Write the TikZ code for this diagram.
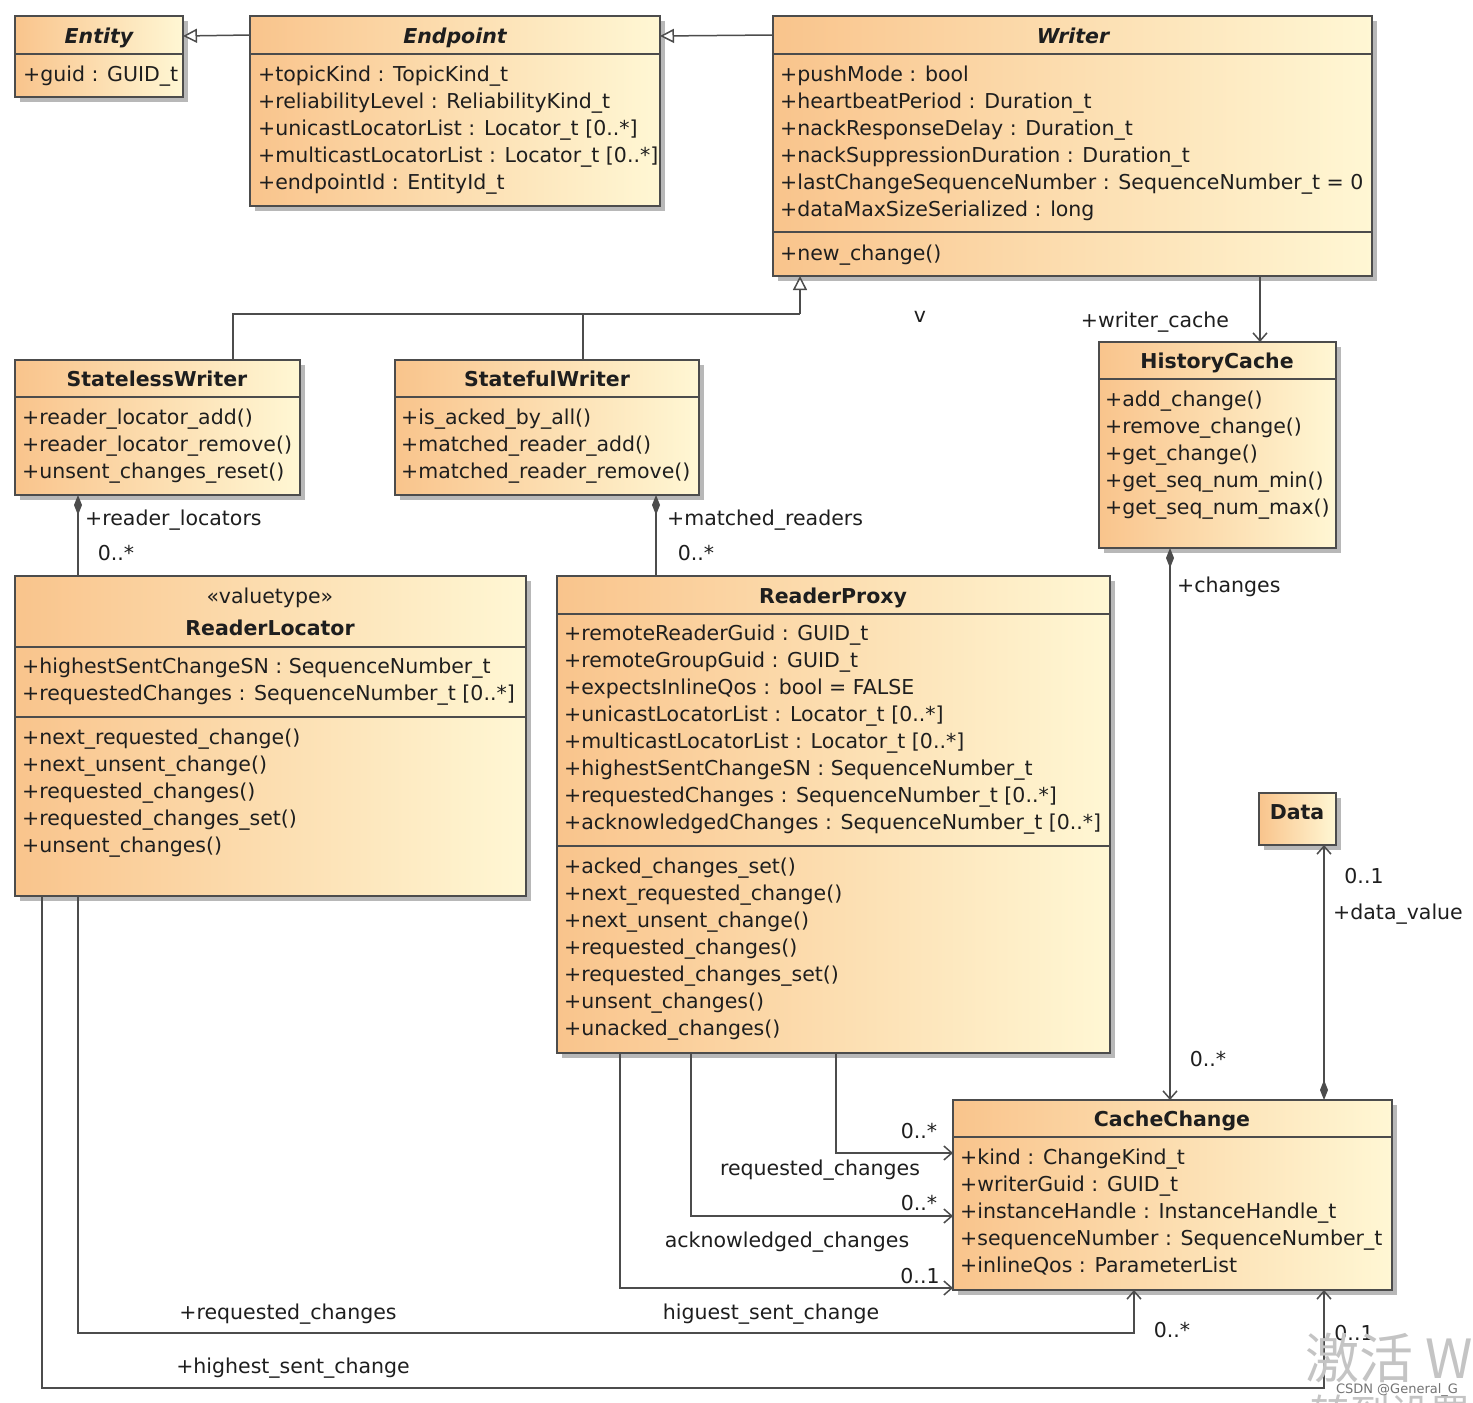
\documentclass[tikz,border=0pt]{standalone}
\usepackage{fontspec}
\setmainfont{DejaVu Sans}
\newfontfamily\cjkfont{Noto Sans CJK SC}
\usetikzlibrary{arrows.meta,shadows,calc}
\definecolor{boxorange}{HTML}{F9C48C}
\definecolor{boxpale}{HTML}{FFF7D4}
\definecolor{edge}{HTML}{4C4C4C}
\definecolor{txt}{HTML}{1E1E1E}
\definecolor{wm}{HTML}{C4C4C4}
\tikzset{
  umlbox/.style={draw=edge, line width=1.6pt, left color=boxorange, right color=boxpale,
    anchor=north west, inner sep=0pt, outer sep=0pt,
    drop shadow={shadow xshift=5pt, shadow yshift=-5pt, fill=black, opacity=0.28}},
  sepline/.style={draw=edge, line width=1.6pt},
  member/.style={anchor=base west, yshift=-7pt, inner sep=0pt, text=txt,
    font=\fontsize{20.5}{24}\selectfont},
  title/.style={anchor=base, yshift=-7pt, inner sep=0pt, text=txt,
    font=\fontsize{20.5}{24}\selectfont\bfseries},
  lbl/.style={anchor=base, yshift=-7pt, inner sep=0pt, text=txt,
    font=\fontsize{20.5}{24}\selectfont},
  conn/.style={draw=edge, line width=1.5pt},
  gen/.style={-{Triangle[open, length=14pt, width=14pt, fill=white]}},
  nav/.style={-{Straight Barb[length=8pt, width=14pt]}},
  comp/.style={{Diamond[length=20pt, width=8pt]}-},
  compnav/.style={{Diamond[length=20pt, width=8pt]}-{Straight Barb[length=8pt, width=14pt]}},
}
\begin{document}
\begin{tikzpicture}[x=1pt, y=-1pt]
\useasboundingbox (0,0) rectangle (1473,1403);
\fill[white] (0,0) rectangle (1473,1403);

% ---------- boxes ----------
\node[umlbox, minimum width=168pt, minimum height=81pt] (entity) at (15,16) {};
\node[umlbox, minimum width=410pt, minimum height=190pt] (endpoint) at (250,16) {};
\node[umlbox, minimum width=599pt, minimum height=260pt] (writer) at (773,16) {};
\node[umlbox, minimum width=285pt, minimum height=135pt] (stateless) at (15,360) {};
\node[umlbox, minimum width=304pt, minimum height=135pt] (stateful) at (395,360) {};
\node[umlbox, minimum width=237pt, minimum height=206pt] (hc) at (1099,342) {};
\node[umlbox, minimum width=511pt, minimum height=320pt] (rl) at (15,576) {};
\node[umlbox, minimum width=553pt, minimum height=477pt] (rp) at (557,576) {};
\node[umlbox, minimum width=77pt, minimum height=52pt] (data) at (1259,793) {};
\node[umlbox, minimum width=439pt, minimum height=190pt] (cc) at (953,1100) {};

% ---------- separators ----------
\draw[sepline] ($(entity.north west)+(0,38)$) -- ($(entity.north east)+(0,38)$);
\draw[sepline] ($(endpoint.north west)+(0,38)$) -- ($(endpoint.north east)+(0,38)$);
\draw[sepline] ($(writer.north west)+(0,38)$) -- ($(writer.north east)+(0,38)$);
\draw[sepline] ($(writer.north west)+(0,216)$) -- ($(writer.north east)+(0,216)$);
\draw[sepline] ($(stateless.north west)+(0,37)$) -- ($(stateless.north east)+(0,37)$);
\draw[sepline] ($(stateful.north west)+(0,37)$) -- ($(stateful.north east)+(0,37)$);
\draw[sepline] ($(hc.north west)+(0,37)$) -- ($(hc.north east)+(0,37)$);
\draw[sepline] ($(rl.north west)+(0,71)$) -- ($(rl.north east)+(0,71)$);
\draw[sepline] ($(rl.north west)+(0,141)$) -- ($(rl.north east)+(0,141)$);
\draw[sepline] ($(rp.north west)+(0,38)$) -- ($(rp.north east)+(0,38)$);
\draw[sepline] ($(rp.north west)+(0,270)$) -- ($(rp.north east)+(0,270)$);
\draw[sepline] ($(cc.north west)+(0,37)$) -- ($(cc.north east)+(0,37)$);

% ---------- titles ----------
\node[title, font=\fontsize{20.5}{24}\selectfont\bfseries\itshape] (t-entity) at (99,36) {Entity};
\node[title, font=\fontsize{20.5}{24}\selectfont\bfseries\itshape] (t-endpoint) at (455,36) {Endpoint};
\node[title, font=\fontsize{20.5}{24}\selectfont\bfseries\itshape] (t-writer) at (1073,36) {Writer};
\node[title] (t-stateless) at (157,379) {StatelessWriter};
\node[title] (t-stateful) at (547,379) {StatefulWriter};
\node[title] (t-hc) at (1217,361) {HistoryCache};
\node[lbl] (t-rl-st) at (270,596) {«valuetype»};
\node[title] (t-rl) at (270,628) {ReaderLocator};
\node[title] (t-rp) at (833,596) {ReaderProxy};
\node[title] (t-data) at (1297,812) {Data};
\node[title] (t-cc) at (1172,1119) {CacheChange};

% ---------- members ----------
\node[member] (m-entity) at (23,74) {+guid : GUID\_t};
\foreach \s [count=\i] in {{+topicKind : TopicKind\_t},{+reliabilityLevel : ReliabilityKind\_t},{+unicastLocatorList : Locator\_t [0..*]},{+multicastLocatorList : Locator\_t [0..*]},{+endpointId : EntityId\_t}}
  \node[member] (m-ep-\i) at (258,{47+27*\i}) {\s};
\foreach \s [count=\i] in {{+pushMode : bool},{+heartbeatPeriod : Duration\_t},{+nackResponseDelay : Duration\_t},{+nackSuppressionDuration : Duration\_t},{+lastChangeSequenceNumber : SequenceNumber\_t = 0},{+dataMaxSizeSerialized : long}}
  \node[member] (m-wr-\i) at (780,{47+27*\i}) {\s};
\node[member] (m-wr-op) at (780,253) {+new\_change()};
\foreach \s [count=\i] in {{+reader\_locator\_add()},{+reader\_locator\_remove()},{+unsent\_changes\_reset()}}
  \node[member] (m-sl-\i) at (22,{390+27*\i}) {\s};
\foreach \s [count=\i] in {{+is\_acked\_by\_all()},{+matched\_reader\_add()},{+matched\_reader\_remove()}}
  \node[member] (m-sf-\i) at (401,{390+27*\i}) {\s};
\foreach \s [count=\i] in {{+add\_change()},{+remove\_change()},{+get\_change()},{+get\_seq\_num\_min()},{+get\_seq\_num\_max()}}
  \node[member] (m-hc-\i) at (1105,{372+27*\i}) {\s};
\foreach \s [count=\i] in {{+highestSentChangeSN : SequenceNumber\_t},{+requestedChanges : SequenceNumber\_t [0..*]}}
  \node[member] (m-rl-\i) at (22,{639+27*\i}) {\s};
\foreach \s [count=\i] in {{+next\_requested\_change()},{+next\_unsent\_change()},{+requested\_changes()},{+requested\_changes\_set()},{+unsent\_changes()}}
  \node[member] (o-rl-\i) at (22,{710+27*\i}) {\s};
\foreach \s [count=\i] in {{+remoteReaderGuid : GUID\_t},{+remoteGroupGuid : GUID\_t},{+expectsInlineQos : bool = FALSE},{+unicastLocatorList : Locator\_t [0..*]},{+multicastLocatorList : Locator\_t [0..*]},{+highestSentChangeSN : SequenceNumber\_t},{+requestedChanges : SequenceNumber\_t [0..*]},{+acknowledgedChanges : SequenceNumber\_t [0..*]}}
  \node[member] (m-rp-\i) at (564,{606+27*\i}) {\s};
\foreach \s [count=\i] in {{+acked\_changes\_set()},{+next\_requested\_change()},{+next\_unsent\_change()},{+requested\_changes()},{+requested\_changes\_set()},{+unsent\_changes()},{+unacked\_changes()}}
  \node[member] (o-rp-\i) at (564,{839+27*\i}) {\s};
\foreach \s [count=\i] in {{+kind : ChangeKind\_t},{+writerGuid : GUID\_t},{+instanceHandle : InstanceHandle\_t},{+sequenceNumber : SequenceNumber\_t},{+inlineQos : ParameterList}}
  \node[member] (m-cc-\i) at (960,{1130+27*\i}) {\s};

% ---------- helper coordinates ----------
\coordinate (genjoin) at (800,314);
\coordinate (xSL) at (233,0);
\coordinate (xSF) at (583,0);
\coordinate (xWC) at (1260,0);
\coordinate (xRL1) at (78,0);
\coordinate (xRL2) at (42,0);
\coordinate (xSFc) at (656,0);
\coordinate (xHC) at (1170,0);
\coordinate (xDV) at (1324,0);
\coordinate (xRP1) at (836,0);
\coordinate (xRP2) at (691,0);
\coordinate (xRP3) at (620,0);
\coordinate (bendA) at (1134,1333);
\coordinate (bendB) at (1324,1388);
\coordinate (yRP1) at (0,1153);
\coordinate (yRP2) at (0,1216);
\coordinate (yRP3) at (0,1288);

% ---------- generalizations ----------
\draw[conn, gen] ($(endpoint.north west)+(0,19)$) -- ($(entity.north east)+(0,20)$);
\draw[conn, gen] ($(writer.north west)+(0,19)$) -- ($(endpoint.north east)+(0,20)$);
\draw[conn] (stateless.north -| xSL) |- (genjoin);
\draw[conn] (stateful.north -| xSF) -- (genjoin -| xSF);
\draw[conn, gen] (genjoin) -- (writer.south -| genjoin);

% ---------- associations ----------
\draw[conn, nav] (writer.south -| xWC) -- (hc.north -| xWC);
\draw[conn, comp] (stateless.south -| xRL1) -- (rl.north -| xRL1);
\draw[conn, comp] (stateful.south -| xSFc) -- (rp.north -| xSFc);
\draw[conn, compnav] (hc.south -| xHC) -- (cc.north -| xHC);
\draw[conn, compnav] (cc.north -| xDV) -- (data.south -| xDV);
\draw[conn, nav] (rp.south -| xRP1) |- (cc.west |- yRP1);
\draw[conn, nav] (rp.south -| xRP2) |- (cc.west |- yRP2);
\draw[conn, nav] (rp.south -| xRP3) |- (cc.west |- yRP3);
\draw[conn, nav] (rl.south -| xRL1) |- (bendA) -- (cc.south -| bendA);
\draw[conn, nav] (rl.south -| xRL2) |- (bendB) -- (cc.south -| bendB);

% ---------- labels ----------
\node[lbl] (l-v) at (920,315) {v};
\node[lbl] (l-wc) at (1155,320) {+writer\_cache};
\node[lbl, anchor=base west] (l-rlocs) at (85,518) {+reader\_locators};
\node[lbl] (l-rlocs-m) at (116,553) {0..*};
\node[lbl, anchor=base west] (l-mr) at (667,518) {+matched\_readers};
\node[lbl] (l-mr-m) at (696,553) {0..*};
\node[lbl, anchor=base west] (l-ch) at (1177,585) {+changes};
\node[lbl] (l-ch-m) at (1208,1059) {0..*};
\node[lbl] (l-dv-m) at (1364,876) {0..1};
\node[lbl] (l-dv) at (1398,912) {+data\_value};
\node[lbl] (l-rc-m) at (919,1131) {0..*};
\node[lbl] (l-rc) at (820,1168) {requested\_changes};
\node[lbl] (l-ac-m) at (919,1203) {0..*};
\node[lbl] (l-ac) at (787,1240) {acknowledged\_changes};
\node[lbl] (l-hs-m) at (920,1276) {0..1};
\node[lbl] (l-hs) at (771,1312) {higuest\_sent\_change};
\node[lbl] (l-rlrc) at (288,1312) {+requested\_changes};
\node[lbl] (l-rlrc-m) at (1172,1330) {0..*};
\node[lbl] (l-rlhs) at (293,1366) {+highest\_sent\_change};
\node[lbl] (l-rlhs-m) at (1354,1333) {0..1};

% ---------- watermark ----------
\begin{scope}
\clip (0,0) rectangle (1473,1403);
\node[anchor=base west, inner sep=0pt, text=wm, font=\cjkfont\fontsize{54}{58}\selectfont] (wm1) at (1305,1378) {激活 W};
\node[anchor=base west, inner sep=0pt, text=wm, font=\cjkfont\fontsize{40}{44}\selectfont] (wm2) at (1310,1428) {转到设置};
\node[anchor=base, inner sep=0pt, text=gray!90!black, font=\fontsize{13}{15}\selectfont] (wm3) at (1397,1393) {CSDN @General\_G};
\end{scope}
\end{tikzpicture}
\end{document}
